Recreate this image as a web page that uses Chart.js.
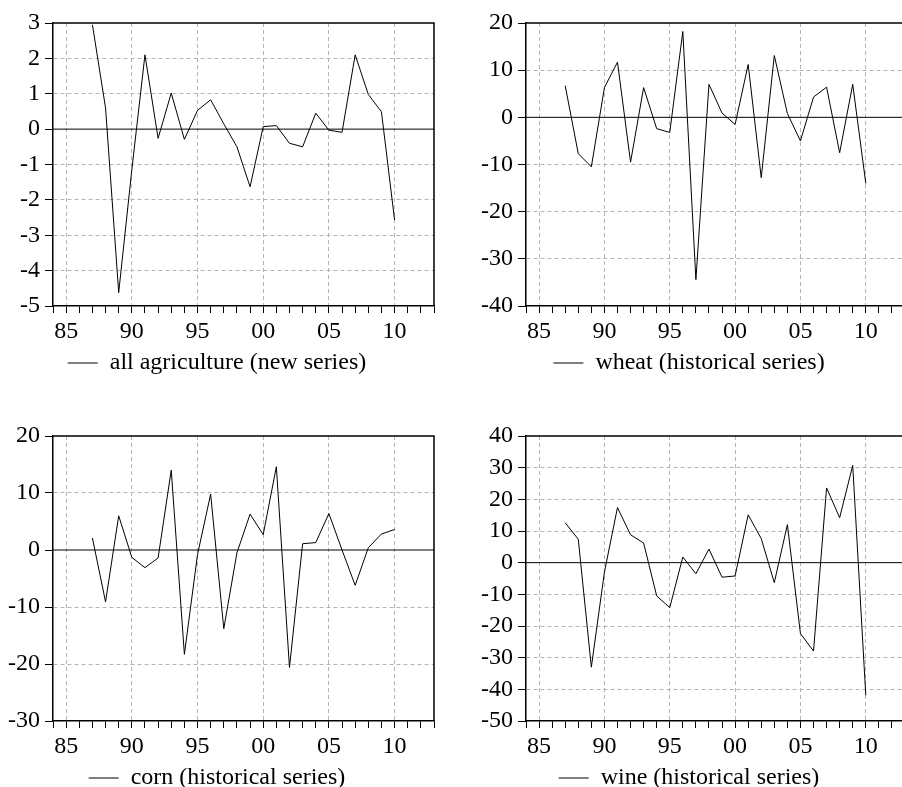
<!DOCTYPE html>
<html>
<head>
<meta charset="utf-8">
<script src="https://cdn.jsdelivr.net/npm/chart.js@4.4.1/dist/chart.umd.min.js"></script>
<style>
  html, body { margin: 0; padding: 0; background: #fff; overflow: hidden; }
  body { width: 902px; height: 787px; position: relative; }
  canvas { position: absolute; }
</style>
</head>
<body>
<canvas id="c1"></canvas>
<canvas id="c2"></canvas>
<canvas id="c3"></canvas>
<canvas id="c4"></canvas>
<script>
// years on the x axis
const years = [1987, 1988, 1989, 1990, 1991, 1992, 1993, 1994, 1995, 1996, 1997, 1998,
               1999, 2000, 2001, 2002, 2003, 2004, 2005, 2006, 2007, 2008, 2009, 2010];
const xMin = 1984, xMax = 2013;

// series values
const agriculture = [2.95, 0.6, -4.62, -1.15, 2.1, -0.26, 1.02, -0.29, 0.53, 0.83, 0.15, -0.5,
                     -1.63, 0.07, 0.1, -0.4, -0.5, 0.45, -0.03, -0.09, 2.1, 0.98, 0.49, -2.57];
const wheat = [6.7, -7.7, -10.5, 6.3, 11.7, -9.5, 6.3, -2.4, -3.2, 18.2, -34.4, 7.0,
               0.9, -1.5, 11.2, -12.8, 13.1, 0.8, -5.0, 4.3, 6.4, -7.5, 7.0, -14.0];
const corn = [2.1, -9.1, 6.0, -1.3, -3.1, -1.4, 14.0, -18.3, -0.8, 9.8, -13.8, -0.5,
              6.3, 2.7, 14.6, -20.6, 1.1, 1.3, 6.4, 0.0, -6.2, 0.4, 2.8, 3.6];
const wine = [12.6, 7.4, -33.0, -3.0, 17.4, 8.8, 6.2, -10.5, -14.2, 1.8, -3.5, 4.3,
              -4.6, -4.2, 15.1, 7.6, -6.3, 12.0, -22.4, -27.9, 23.6, 14.2, 30.7, -41.9];

// legend labels
const names = ['all agriculture (new series)', 'wheat (historical series)',
               'corn (historical series)', 'wine (historical series)'];
// y axis ranges [min, max, step]
const yRanges = [[-5, 3, 1], [-40, 20, 10], [-30, 20, 10], [-50, 40, 10]];

const FONT = {family: '"Liberation Serif", "Times New Roman", serif', size: 24};
const GRID = '#b4b4b4';

// top and right sides of the frame
const framePlugin = {
    id: 'frame',
    afterDraw(chart) {
        const {ctx, chartArea: a} = chart;
        ctx.save();
        ctx.strokeStyle = '#000';
        ctx.lineWidth = 1.5;
        ctx.beginPath();
        ctx.moveTo(a.left, a.top);
        ctx.lineTo(a.right, a.top);
        ctx.lineTo(a.right, a.bottom);
        ctx.stroke();
        ctx.restore();
    }
};

function makePanel(id, left, top, width, height, values, name, range) {
    const cv = document.getElementById(id);
    cv.width = width;
    cv.height = height;
    cv.style.left = left + 'px';
    cv.style.top = top + 'px';
    const [yMin, yMax, yStep] = range;

    new Chart(cv.getContext('2d'), {
        type: 'line',
        data: {
            datasets: [{
                label: name,
                data: years.map((yr, i) => ({x: yr, y: values[i]})),
                borderColor: '#000',
                borderWidth: 1,
                pointRadius: 0,
                tension: 0,
                fill: false
            }, {
                label: 'zero',
                data: [{x: xMin, y: 0}, {x: xMax, y: 0}],
                borderColor: '#000',
                borderWidth: 1,
                pointRadius: 0,
                fill: false
            }]
        },
        options: {
            responsive: false,
            animation: false,
            devicePixelRatio: 1,
            layout: {padding: {left: 0, top: 23, right: 17, bottom: 0}},
            plugins: {
                legend: {
                    position: 'bottom',
                    labels: {
                        usePointStyle: true,
                        pointStyle: 'line',
                        pointStyleWidth: 30,
                        color: '#000',
                        font: FONT,
                        padding: 10,
                        filter: item => item.datasetIndex === 0
                    }
                },
                tooltip: {enabled: false}
            },
            scales: {
                x: {
                    type: 'linear',
                    min: xMin,
                    max: xMax,
                    afterFit: s => { s.height = 35; },
                    ticks: {
                        stepSize: 1,
                        autoSkip: false,
                        maxRotation: 0,
                        padding: 4,
                        color: '#000',
                        font: FONT,
                        callback: v => (v % 5 === 0 ? String(v).slice(2) : '')
                    },
                    grid: {
                        color: c => (c.tick && c.tick.value % 5 === 0 ? GRID : 'rgba(0,0,0,0)'),
                        tickColor: '#000',
                        tickLength: 7,
                        lineWidth: 1
                    },
                    border: {display: true, color: '#000', width: 1.5, dash: [4, 3]}
                },
                y: {
                    min: yMin,
                    max: yMax,
                    afterFit: s => { s.width = 53; },
                    ticks: {
                        stepSize: yStep,
                        autoSkip: false,
                        padding: 5,
                        color: '#000',
                        font: FONT
                    },
                    grid: {
                        color: c => {
                            const v = c.tick ? c.tick.value : 0;
                            return (v === yMin || v === yMax || v === 0) ? 'rgba(0,0,0,0)' : GRID;
                        },
                        tickColor: '#000',
                        tickLength: 8,
                        lineWidth: 1
                    },
                    border: {display: true, color: '#000', width: 1.5, dash: [4, 3]}
                }
            }
        },
        plugins: [framePlugin]
    });
}

makePanel('c1', 0, 0, 451, 385, agriculture, names[0], yRanges[0]);
makePanel('c2', 473, 0, 449, 385, wheat, names[1], yRanges[1]);
makePanel('c3', 0, 413, 451, 387, corn, names[2], yRanges[2]);
makePanel('c4', 473, 413, 449, 387, wine, names[3], yRanges[3]);
</script>
</body>
</html>
